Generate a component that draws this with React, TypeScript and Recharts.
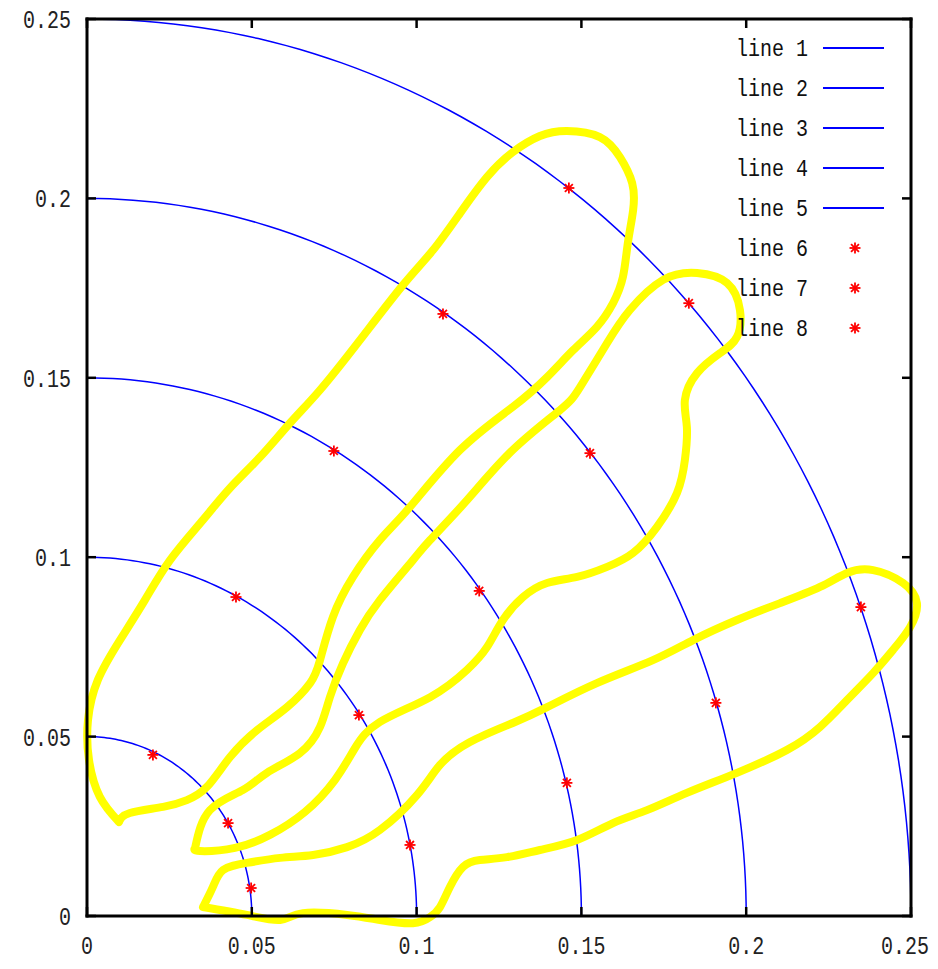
import React from "react";
import { ComposedChart, Legend, Line, Scatter, XAxis, YAxis } from "recharts";

const ticks = [0, 0.05, 0.1, 0.15, 0.2, 0.25];
const radii = [0.05, 0.1, 0.15, 0.2, 0.25];
const arcNames = ["line 1", "line 2", "line 3", "line 4", "line 5"];

// marked points, one per circle
const line6 = [
  { x: 0.02, y: 0.0449 },
  { x: 0.0452, y: 0.0889 },
  { x: 0.0749, y: 0.1296 },
  { x: 0.108, y: 0.1678 },
  { x: 0.1462, y: 0.2029 },
];
const line7 = [
  { x: 0.0428, y: 0.0259 },
  { x: 0.0825, y: 0.056 },
  { x: 0.119, y: 0.0906 },
  { x: 0.1526, y: 0.129 },
  { x: 0.1826, y: 0.1708 },
];
const line8 = [
  { x: 0.0498, y: 0.0078 },
  { x: 0.098, y: 0.0198 },
  { x: 0.1456, y: 0.0371 },
  { x: 0.1908, y: 0.0594 },
  { x: 0.2348, y: 0.0861 },
];

// hand drawn yellow outlines, each starts and ends at its pointed corner
const loopA: [number, number][] = [
  [0.0097, 0.0262], [0.0039, 0.0332], [0.0006, 0.0435], [0.0003, 0.0546], [0.0033, 0.0658],
  [0.01, 0.0769], [0.0176, 0.0881], [0.0252, 0.0992], [0.0352, 0.1104], [0.0434, 0.1193],
  [0.0525, 0.1279], [0.0616, 0.1374], [0.0707, 0.1466], [0.0828, 0.1605], [0.0959, 0.1759],
  [0.105, 0.1856], [0.1132, 0.1959], [0.1214, 0.206], [0.1292, 0.2129], [0.1374, 0.2174],
  [0.1456, 0.2188], [0.1556, 0.2171], [0.1617, 0.2115], [0.1654, 0.2043], [0.1657, 0.1968],
  [0.1641, 0.1876], [0.1626, 0.1781], [0.1596, 0.1708], [0.1547, 0.1642], [0.1475, 0.1577],
  [0.1396, 0.1502], [0.1292, 0.1419], [0.1132, 0.1299], [0.098, 0.114], [0.0889, 0.1048],
  [0.0807, 0.0945], [0.0746, 0.0833], [0.0707, 0.0713], [0.0677, 0.0649], [0.0607, 0.0582],
  [0.0516, 0.0518], [0.0434, 0.0443], [0.0364, 0.036], [0.0303, 0.0323], [0.0231, 0.0304],
  [0.013, 0.0287], [0.0097, 0.0262],
];
const loopB: [number, number][] = [
  [0.0328, 0.019], [0.0373, 0.0295], [0.0473, 0.0351], [0.0546, 0.0399], [0.0646, 0.0454],
  [0.0707, 0.0527], [0.0737, 0.061], [0.0777, 0.0705], [0.0828, 0.0797], [0.0889, 0.0881],
  [0.0989, 0.0992], [0.1041, 0.1048], [0.1153, 0.1159], [0.1292, 0.1299], [0.1435, 0.141],
  [0.1496, 0.1474], [0.1578, 0.1597], [0.1647, 0.1689], [0.1748, 0.1773], [0.1851, 0.1792],
  [0.1942, 0.1764], [0.1981, 0.1689], [0.1972, 0.1614], [0.1921, 0.1569], [0.1851, 0.1513],
  [0.1814, 0.1438], [0.182, 0.1363], [0.1814, 0.1271], [0.179, 0.1179], [0.1729, 0.1084],
  [0.1657, 0.1012], [0.1578, 0.0973], [0.1487, 0.0945], [0.1396, 0.0928], [0.1323, 0.0889],
  [0.1262, 0.0825], [0.1214, 0.075], [0.1153, 0.0686], [0.1041, 0.061], [0.0889, 0.0541],
  [0.0813, 0.0468], [0.0752, 0.0379], [0.0661, 0.029], [0.0555, 0.0226], [0.0449, 0.019],
  [0.0343, 0.0181], [0.0328, 0.019],
];
const loopC: [number, number][] = [
  [0.0352, 0.0025], [0.0382, 0.0081], [0.0413, 0.0128], [0.0485, 0.0148], [0.0586, 0.0162],
  [0.0686, 0.017], [0.0789, 0.0192], [0.0889, 0.024], [0.1001, 0.0337], [0.1071, 0.0421],
  [0.1162, 0.0485], [0.1292, 0.0538], [0.1396, 0.0582], [0.1547, 0.0649], [0.1717, 0.0713],
  [0.1839, 0.0769], [0.1972, 0.0825], [0.2103, 0.0872], [0.2224, 0.0917], [0.2306, 0.0956],
  [0.2385, 0.0964], [0.2476, 0.0928], [0.2518, 0.0872], [0.2497, 0.0805], [0.2445, 0.0741],
  [0.2385, 0.0677], [0.2306, 0.0602], [0.2224, 0.0527], [0.2124, 0.0463], [0.1972, 0.0399],
  [0.182, 0.0343], [0.1699, 0.0295], [0.1596, 0.0259], [0.1487, 0.0212], [0.1374, 0.0184],
  [0.1274, 0.0164], [0.1192, 0.0156], [0.1141, 0.0137], [0.1101, 0.0081], [0.1071, 0.0025],
  [0.1041, -0.0003], [0.0989, -0.002], [0.0889, -0.0011], [0.0789, 0.0003], [0.0655, 0.0008],
  [0.0586, -0.0011], [0.0485, 0.0003], [0.0352, 0.0025],
];
const loops = [loopA, loopB, loopC].map((pts) => pts.map(([x, y]) => ({ x, y })));

// quarter circles, traced from the radius (1 degree steps)
const degrees = Array.from({ length: 91 }, (_, i) => i);
const arcs = radii.map((r) =>
  degrees.map((d) => ({ x: r * Math.cos((d * Math.PI) / 180), y: r * Math.sin((d * Math.PI) / 180) }))
);

const FONT = "'Liberation Mono', 'DejaVu Sans Mono', monospace";
const fmt = (v: number) => String(v);

function Star({ cx, cy }: any) {
  const r = 5.5;
  const d = r * 0.72;
  return (
    <g stroke="#ff0000" strokeWidth={1.8}>
      <line x1={cx - r} x2={cx + r} y1={cy} y2={cy} />
      <line x1={cx} x2={cx} y1={cy - r} y2={cy + r} />
      <line x1={cx - d} x2={cx + d} y1={cy - d} y2={cy + d} />
      <line x1={cx - d} x2={cx + d} y1={cy + d} y2={cy - d} />
    </g>
  );
}

function BottomTick({ x, y, payload, index }: any) {
  // last label is pulled in a little so it stays on the page
  const last = index === ticks.length - 1;
  return (
    <g>
      <line x1={x} x2={x} y1={y} y2={y - 9} stroke="#000" strokeWidth={2.5} />
      <text
        transform={`translate(${last ? x + 18 : x},${y + 38}) scale(1,1.25)`}
        textAnchor={last ? "end" : "middle"}
        fontFamily={FONT}
        fontSize={20}
        fill="#222"
      >
        {fmt(payload.value)}
      </text>
    </g>
  );
}

function LeftTick({ x, y, payload }: any) {
  return (
    <g>
      <line x1={x} x2={x + 9} y1={y} y2={y} stroke="#000" strokeWidth={2.5} />
      <text transform={`translate(${x - 16},${y + 9}) scale(1,1.25)`} textAnchor="end" fontFamily={FONT} fontSize={20} fill="#222">
        {fmt(payload.value)}
      </text>
    </g>
  );
}

function TopTick({ x, y }: any) {
  return <line x1={x} x2={x} y1={y} y2={y + 9} stroke="#000" strokeWidth={2.5} />;
}

function RightTick({ x, y }: any) {
  return <line x1={x} x2={x - 9} y1={y} y2={y} stroke="#000" strokeWidth={2.5} />;
}

function LegendBox({ payload }: any) {
  const items = (payload ?? []).filter((p: any) => p.type !== "none");
  return (
    <svg width={200} height={330}>
      {items.map((p: any, i: number) => {
        const cy = 20 + i * 40;
        return (
          <g key={p.value}>
            <text transform={`translate(88,${cy + 8}) scale(1,1.2)`} textAnchor="end" fontFamily={FONT} fontSize={20} fill="#111">
              {p.value}
            </text>
            {p.type === "star" ? (
              <Star cx={135} cy={cy} />
            ) : (
              <line x1={103} x2={164} y1={cy} y2={cy} stroke="#0000ff" strokeWidth={2} />
            )}
          </g>
        );
      })}
    </svg>
  );
}

const axisLine = { stroke: "#000", strokeWidth: 3, strokeLinecap: "square" as const };

export default function App() {
  return (
    <div style={{ width: 922, height: 946 }}>
      <style>{`.loop, .loop * { clip-path: none !important; } .recharts-surface { overflow: visible; }`}</style>
      <ComposedChart width={922} height={946} margin={{ top: 10, right: 18, bottom: 0, left: 0 }}>
        <XAxis
          xAxisId="b"
          type="number"
          dataKey="x"
          domain={[0, 0.25]}
          allowDataOverflow
          ticks={ticks}
          interval={0}
          height={38}
          tickSize={0}
          tickMargin={0}
          tickLine={false}
          axisLine={axisLine}
          tick={<BottomTick />}
        />
        <XAxis
          xAxisId="t"
          orientation="top"
          type="number"
          dataKey="x"
          domain={[0, 0.25]}
          allowDataOverflow
          ticks={ticks}
          interval={0}
          height={1}
          tickSize={0}
          tickMargin={0}
          tickLine={false}
          axisLine={axisLine}
          tick={<TopTick />}
        />
        <YAxis
          yAxisId="l"
          type="number"
          dataKey="y"
          domain={[0, 0.25]}
          allowDataOverflow
          ticks={ticks}
          interval={0}
          width={79}
          tickSize={0}
          tickMargin={0}
          tickLine={false}
          axisLine={axisLine}
          tick={<LeftTick />}
        />
        <YAxis
          yAxisId="r"
          orientation="right"
          type="number"
          dataKey="y"
          domain={[0, 0.25]}
          allowDataOverflow
          ticks={ticks}
          interval={0}
          width={1}
          tickSize={0}
          tickMargin={0}
          tickLine={false}
          axisLine={axisLine}
          tick={<RightTick />}
        />
        <Legend
          layout="horizontal"
          verticalAlign="middle"
          align="center"
          width={200}
          content={<LegendBox />}
          wrapperStyle={{ position: "absolute", left: 712, top: 20, width: 200 }}
        />
        {arcs.map((pts, i) => (
          <Line
            key={arcNames[i]}
            name={arcNames[i]}
            xAxisId="b"
            yAxisId="l"
            data={pts}
            dataKey="y"
            type="linear"
            stroke="#0000ff"
            strokeWidth={1.5}
            dot={false}
            activeDot={false}
            isAnimationActive={false}
          />
        ))}
        <Scatter name="line 6" xAxisId="b" yAxisId="l" data={line6} dataKey="y" fill="#ff0000" legendType="star" shape={<Star />} isAnimationActive={false} />
        <Scatter name="line 7" xAxisId="b" yAxisId="l" data={line7} dataKey="y" fill="#ff0000" legendType="star" shape={<Star />} isAnimationActive={false} />
        <Scatter name="line 8" xAxisId="b" yAxisId="l" data={line8} dataKey="y" fill="#ff0000" legendType="star" shape={<Star />} isAnimationActive={false} />
        {loops.map((pts, i) => (
          <Line
            key={"loop" + i}
            className="loop"
            xAxisId="b"
            yAxisId="l"
            data={pts}
            dataKey="y"
            type="natural"
            stroke="#ffff00"
            strokeWidth={8}
            strokeLinejoin="round"
            strokeLinecap="round"
            dot={false}
            activeDot={false}
            legendType="none"
            isAnimationActive={false}
          />
        ))}
      </ComposedChart>
    </div>
  );
}
